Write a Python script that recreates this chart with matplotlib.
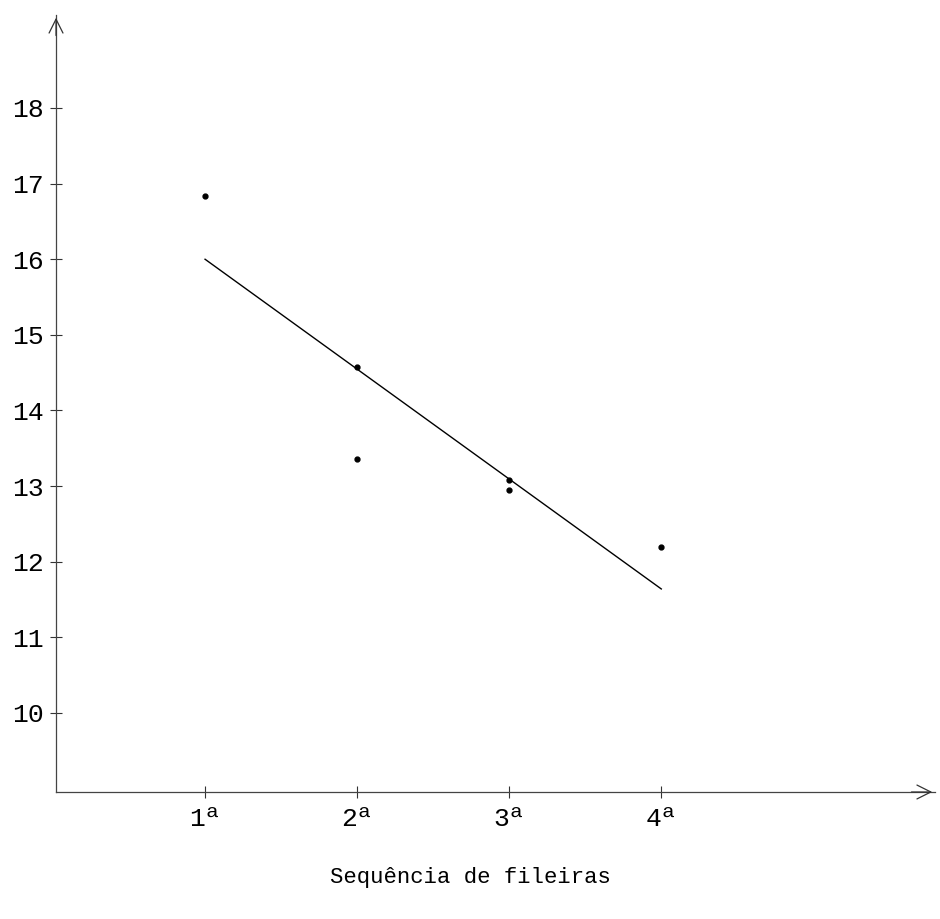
import matplotlib.pyplot as plt
plt.rcParams['font.family'] = ['Liberation Mono', 'DejaVu Sans Mono']

# dados
fileiras = [1, 2, 2, 3, 3, 4]
valores = [16.84, 14.57, 13.36, 13.08, 12.95, 12.19]
reta_x = [1, 4]
reta_y = [16.0, 11.64]
xticks = [1, 2, 3, 4]
xlabels = ['1ª', '2ª', '3ª', '4ª']
yticks = [10, 11, 12, 13, 14, 15, 16, 17, 18]

fig = plt.figure(figsize=(9.4, 9.19), dpi=100)
ax = fig.add_axes([0.0596, 0.1382, 0.9351, 0.8455])

ax.plot(fileiras, valores, linestyle='none', marker='o', color='black', markersize=3.5)
ax.plot(reta_x, reta_y, color='black', linewidth=1.0)

ax.set_xlim(0.02, 5.8)
ax.set_ylim(8.955, 19.23)

ax.set_xticks(xticks)
ax.set_xticklabels(xlabels, fontsize=19)
ax.set_yticks(yticks)
ax.set_yticklabels([str(v) for v in yticks], fontsize=19)
ax.tick_params(axis='both', direction='inout', length=9, width=0.8, color='#333333', pad=6)
ax.tick_params(axis='y', pad=4)

for s in ['top', 'right']:
    ax.spines[s].set_visible(False)
for s in ['left', 'bottom']:
    ax.spines[s].set_color('#444444')
    ax.spines[s].set_linewidth(0.9)

# setas dos eixos
ax.annotate('', xy=(1.0, 0), xytext=(0.97, 0), xycoords='axes fraction',
            arrowprops=dict(arrowstyle='->', color='#333333', lw=0.9, mutation_scale=25))
ax.annotate('', xy=(0, 1.0), xytext=(0, 0.97), xycoords='axes fraction',
            arrowprops=dict(arrowstyle='->', color='#333333', lw=0.9, mutation_scale=25))

fig.text(470 / 940, 1 - 878 / 919, 'Sequência de fileiras', fontsize=16,
         ha='center', va='center')

fig.savefig('out.png', dpi=100)
